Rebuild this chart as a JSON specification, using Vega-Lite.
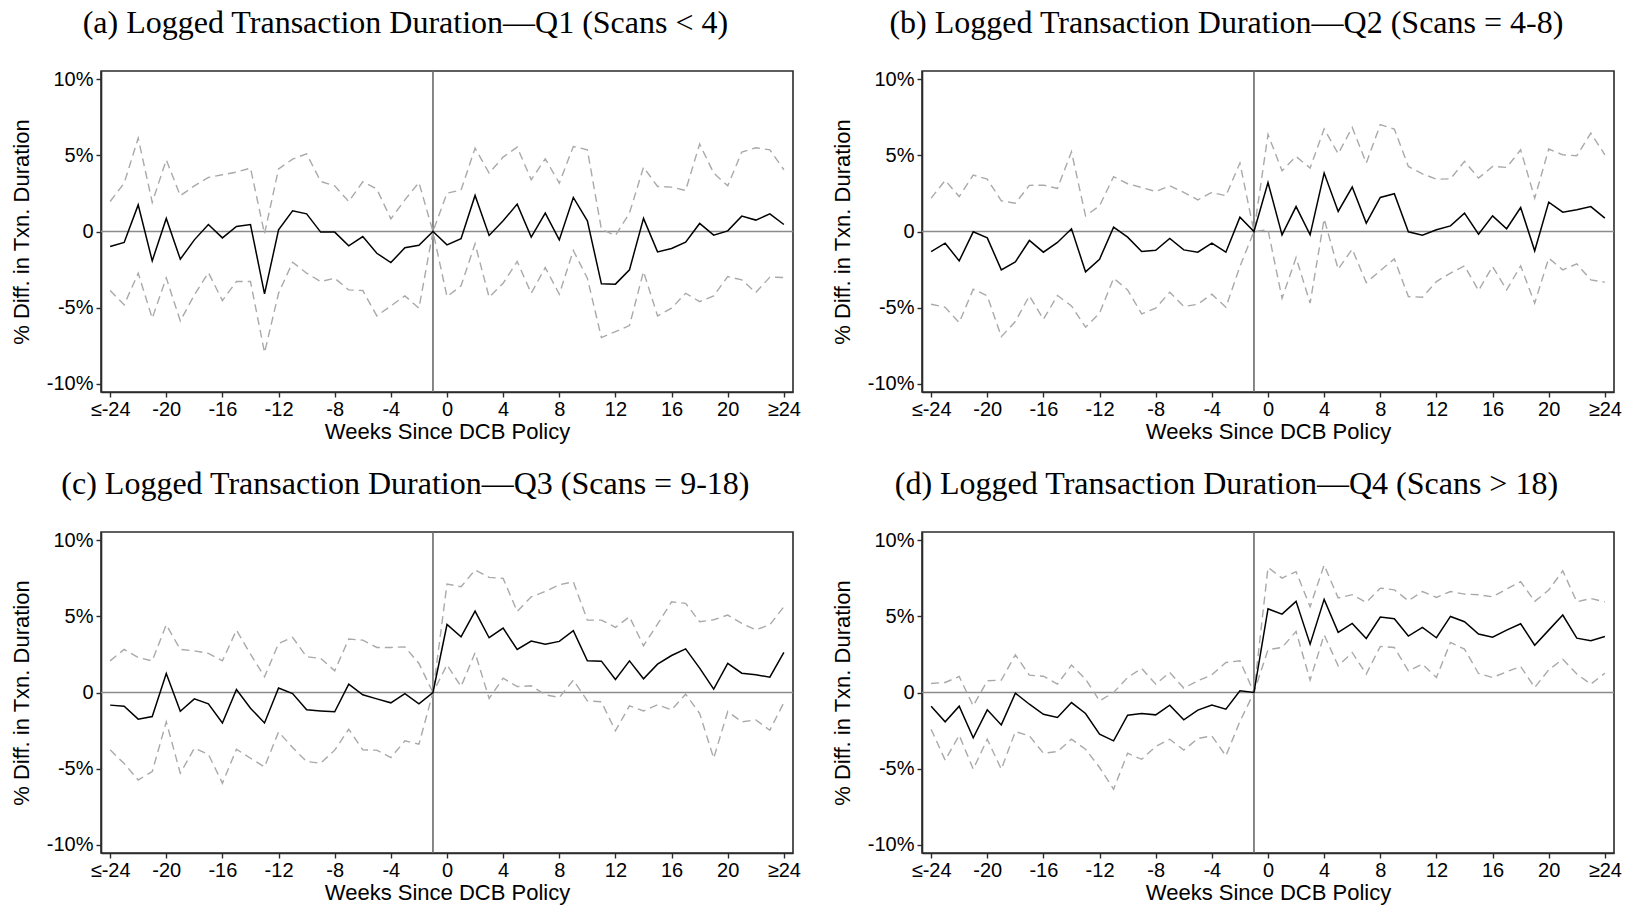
{
  "$schema": "https://vega.github.io/schema/vega-lite/v6.json",
  "background": "white",
  "padding": {"left": 9, "top": 6, "right": 4, "bottom": 2},
  "config": {
    "view": {"stroke": "#2b2b2b", "strokeWidth": 1.6},
    "axis": {
      "grid": false,
      "domainColor": "#2b2b2b",
      "domainWidth": 1.6,
      "tickColor": "#2b2b2b",
      "tickWidth": 1.4,
      "tickSize": 5,
      "labelFont": "Liberation Sans",
      "labelFontSize": 20,
      "labelColor": "#000000",
      "labelPadding": 2,
      "labelOverlap": false,
      "labelFlush": false,
      "labelBound": false,
      "titleFont": "Liberation Sans",
      "titleFontSize": 22,
      "titleFontWeight": "normal",
      "titleColor": "#000000"
    },
    "axisX": {"titlePadding": 2},
    "axisY": {"titlePadding": 13, "labelPadding": 3},
    "title": {
      "font": "Liberation Serif",
      "fontSize": 32,
      "fontWeight": "normal",
      "color": "#000000",
      "anchor": "middle",
      "frame": "bounds",
      "offset": 29
    }
  },
  "datasets": {
    "coef": [
      {"p":"a","w":-24,"est":-0.99,"lo":-3.88,"hi":1.97},
      {"p":"a","w":-23,"est":-0.72,"lo":-4.82,"hi":3.18},
      {"p":"a","w":-22,"est":1.75,"lo":-2.74,"hi":6.14},
      {"p":"a","w":-21,"est":-1.93,"lo":-5.7,"hi":1.91},
      {"p":"a","w":-20,"est":0.86,"lo":-3.05,"hi":4.71},
      {"p":"a","w":-19,"est":-1.82,"lo":-5.88,"hi":2.35},
      {"p":"a","w":-18,"est":-0.55,"lo":-4.17,"hi":3.0},
      {"p":"a","w":-17,"est":0.46,"lo":-2.7,"hi":3.55},
      {"p":"a","w":-16,"est":-0.42,"lo":-4.54,"hi":3.73},
      {"p":"a","w":-15,"est":0.33,"lo":-3.29,"hi":3.9},
      {"p":"a","w":-14,"est":0.46,"lo":-3.29,"hi":4.17},
      {"p":"a","w":-13,"est":-4.1,"lo":-7.96,"hi":-0.15},
      {"p":"a","w":-12,"est":0.11,"lo":-4.06,"hi":4.12},
      {"p":"a","w":-11,"est":1.36,"lo":-2.02,"hi":4.76},
      {"p":"a","w":-10,"est":1.16,"lo":-2.74,"hi":5.11},
      {"p":"a","w":-9,"est":-0.04,"lo":-3.29,"hi":3.29},
      {"p":"a","w":-8,"est":-0.04,"lo":-3.07,"hi":3.0},
      {"p":"a","w":-7,"est":-0.94,"lo":-3.84,"hi":1.97},
      {"p":"a","w":-6,"est":-0.33,"lo":-3.88,"hi":3.27},
      {"p":"a","w":-5,"est":-1.43,"lo":-5.55,"hi":2.79},
      {"p":"a","w":-4,"est":-2.04,"lo":-4.89,"hi":0.83},
      {"p":"a","w":-3,"est":-1.07,"lo":-4.23,"hi":2.08},
      {"p":"a","w":-2,"est":-0.9,"lo":-5.04,"hi":3.22},
      {"p":"a","w":-1,"est":0,"lo":0,"hi":0},
      {"p":"a","w":0,"est":-0.88,"lo":-4.28,"hi":2.52},
      {"p":"a","w":1,"est":-0.48,"lo":-3.57,"hi":2.72},
      {"p":"a","w":2,"est":2.37,"lo":-0.81,"hi":5.48},
      {"p":"a","w":3,"est":-0.26,"lo":-4.32,"hi":3.84},
      {"p":"a","w":4,"est":0.7,"lo":-3.4,"hi":4.89},
      {"p":"a","w":5,"est":1.8,"lo":-1.97,"hi":5.55},
      {"p":"a","w":6,"est":-0.37,"lo":-4.06,"hi":3.4},
      {"p":"a","w":7,"est":1.21,"lo":-2.37,"hi":4.78},
      {"p":"a","w":8,"est":-0.55,"lo":-4.12,"hi":3.18},
      {"p":"a","w":9,"est":2.24,"lo":-1.25,"hi":5.59},
      {"p":"a","w":10,"est":0.7,"lo":-3.07,"hi":5.37},
      {"p":"a","w":11,"est":-3.44,"lo":-6.97,"hi":0.15},
      {"p":"a","w":12,"est":-3.46,"lo":-6.58,"hi":-0.26},
      {"p":"a","w":13,"est":-2.52,"lo":-6.18,"hi":1.21},
      {"p":"a","w":14,"est":0.86,"lo":-2.63,"hi":4.23},
      {"p":"a","w":15,"est":-1.34,"lo":-5.55,"hi":2.96},
      {"p":"a","w":16,"est":-1.12,"lo":-5.04,"hi":2.92},
      {"p":"a","w":17,"est":-0.7,"lo":-4.06,"hi":2.7},
      {"p":"a","w":18,"est":0.53,"lo":-4.61,"hi":5.75},
      {"p":"a","w":19,"est":-0.24,"lo":-4.23,"hi":3.84},
      {"p":"a","w":20,"est":0.04,"lo":-2.96,"hi":3.0},
      {"p":"a","w":21,"est":1.01,"lo":-3.18,"hi":5.22},
      {"p":"a","w":22,"est":0.75,"lo":-4.01,"hi":5.5},
      {"p":"a","w":23,"est":1.16,"lo":-3.0,"hi":5.37},
      {"p":"a","w":24,"est":0.46,"lo":-3.03,"hi":4.06},

      {"p":"b","w":-24,"est":-1.32,"lo":-4.78,"hi":2.19},
      {"p":"b","w":-23,"est":-0.77,"lo":-4.98,"hi":3.36},
      {"p":"b","w":-22,"est":-1.93,"lo":-5.99,"hi":2.3},
      {"p":"b","w":-21,"est":-0.02,"lo":-3.79,"hi":3.71},
      {"p":"b","w":-20,"est":-0.42,"lo":-4.23,"hi":3.44},
      {"p":"b","w":-19,"est":-2.52,"lo":-6.91,"hi":2.02},
      {"p":"b","w":-18,"est":-2.0,"lo":-5.92,"hi":1.86},
      {"p":"b","w":-17,"est":-0.59,"lo":-4.23,"hi":3.03},
      {"p":"b","w":-16,"est":-1.36,"lo":-5.77,"hi":3.05},
      {"p":"b","w":-15,"est":-0.72,"lo":-4.21,"hi":2.83},
      {"p":"b","w":-14,"est":0.18,"lo":-4.89,"hi":5.24},
      {"p":"b","w":-13,"est":-2.65,"lo":-6.29,"hi":1.03},
      {"p":"b","w":-12,"est":-1.82,"lo":-5.37,"hi":1.69},
      {"p":"b","w":-11,"est":0.29,"lo":-3.07,"hi":3.6},
      {"p":"b","w":-10,"est":-0.37,"lo":-3.84,"hi":3.14},
      {"p":"b","w":-9,"est":-1.32,"lo":-5.42,"hi":2.89},
      {"p":"b","w":-8,"est":-1.23,"lo":-5.04,"hi":2.63},
      {"p":"b","w":-7,"est":-0.46,"lo":-3.99,"hi":3.0},
      {"p":"b","w":-6,"est":-1.21,"lo":-4.93,"hi":2.57},
      {"p":"b","w":-5,"est":-1.36,"lo":-4.78,"hi":2.08},
      {"p":"b","w":-4,"est":-0.77,"lo":-4.12,"hi":2.57},
      {"p":"b","w":-3,"est":-1.36,"lo":-4.98,"hi":2.35},
      {"p":"b","w":-2,"est":0.94,"lo":-2.3,"hi":4.5},
      {"p":"b","w":-1,"est":0,"lo":0,"hi":0},
      {"p":"b","w":0,"est":3.22,"lo":0.11,"hi":6.38},
      {"p":"b","w":1,"est":-0.22,"lo":-4.39,"hi":3.99},
      {"p":"b","w":2,"est":1.64,"lo":-1.71,"hi":4.93},
      {"p":"b","w":3,"est":-0.22,"lo":-4.71,"hi":4.17},
      {"p":"b","w":4,"est":3.84,"lo":0.83,"hi":6.75},
      {"p":"b","w":5,"est":1.32,"lo":-2.48,"hi":5.11},
      {"p":"b","w":6,"est":2.92,"lo":-1.16,"hi":6.84},
      {"p":"b","w":7,"est":0.55,"lo":-3.36,"hi":4.5},
      {"p":"b","w":8,"est":2.24,"lo":-2.57,"hi":7.02},
      {"p":"b","w":9,"est":2.48,"lo":-1.8,"hi":6.73},
      {"p":"b","w":10,"est":-0.02,"lo":-4.28,"hi":4.28},
      {"p":"b","w":11,"est":-0.24,"lo":-4.32,"hi":3.79},
      {"p":"b","w":12,"est":0.11,"lo":-3.29,"hi":3.44},
      {"p":"b","w":13,"est":0.37,"lo":-2.74,"hi":3.46},
      {"p":"b","w":14,"est":1.21,"lo":-2.26,"hi":4.61},
      {"p":"b","w":15,"est":-0.18,"lo":-3.88,"hi":3.51},
      {"p":"b","w":16,"est":1.03,"lo":-2.3,"hi":4.28},
      {"p":"b","w":17,"est":0.18,"lo":-3.84,"hi":4.21},
      {"p":"b","w":18,"est":1.58,"lo":-2.26,"hi":5.37},
      {"p":"b","w":19,"est":-1.27,"lo":-4.71,"hi":2.19},
      {"p":"b","w":20,"est":1.93,"lo":-1.75,"hi":5.42},
      {"p":"b","w":21,"est":1.27,"lo":-2.52,"hi":5.04},
      {"p":"b","w":22,"est":1.43,"lo":-2.13,"hi":4.98},
      {"p":"b","w":23,"est":1.64,"lo":-3.18,"hi":6.47},
      {"p":"b","w":24,"est":0.88,"lo":-3.33,"hi":5.04},

      {"p":"c","w":-24,"est":-0.83,"lo":-3.77,"hi":2.08},
      {"p":"c","w":-23,"est":-0.9,"lo":-4.67,"hi":2.83},
      {"p":"c","w":-22,"est":-1.75,"lo":-5.75,"hi":2.3},
      {"p":"c","w":-21,"est":-1.58,"lo":-5.2,"hi":2.08},
      {"p":"c","w":-20,"est":1.25,"lo":-1.93,"hi":4.45},
      {"p":"c","w":-19,"est":-1.23,"lo":-5.31,"hi":2.83},
      {"p":"c","w":-18,"est":-0.42,"lo":-3.66,"hi":2.74},
      {"p":"c","w":-17,"est":-0.75,"lo":-4.06,"hi":2.57},
      {"p":"c","w":-16,"est":-2.0,"lo":-5.96,"hi":2.08},
      {"p":"c","w":-15,"est":0.2,"lo":-3.73,"hi":4.1},
      {"p":"c","w":-14,"est":-1.03,"lo":-4.32,"hi":2.52},
      {"p":"c","w":-13,"est":-2.0,"lo":-4.89,"hi":1.03},
      {"p":"c","w":-12,"est":0.29,"lo":-2.59,"hi":3.22},
      {"p":"c","w":-11,"est":-0.07,"lo":-3.62,"hi":3.62},
      {"p":"c","w":-10,"est":-1.14,"lo":-4.54,"hi":2.35},
      {"p":"c","w":-9,"est":-1.21,"lo":-4.65,"hi":2.24},
      {"p":"c","w":-8,"est":-1.27,"lo":-3.79,"hi":1.43},
      {"p":"c","w":-7,"est":0.55,"lo":-2.41,"hi":3.51},
      {"p":"c","w":-6,"est":-0.15,"lo":-3.77,"hi":3.44},
      {"p":"c","w":-5,"est":-0.42,"lo":-3.79,"hi":2.96},
      {"p":"c","w":-4,"est":-0.68,"lo":-4.28,"hi":2.96},
      {"p":"c","w":-3,"est":-0.07,"lo":-3.18,"hi":3.0},
      {"p":"c","w":-2,"est":-0.75,"lo":-3.4,"hi":1.91},
      {"p":"c","w":-1,"est":0,"lo":0,"hi":0},
      {"p":"c","w":0,"est":4.47,"lo":1.82,"hi":7.13},
      {"p":"c","w":1,"est":3.66,"lo":0.39,"hi":6.95},
      {"p":"c","w":2,"est":5.35,"lo":2.61,"hi":8.05},
      {"p":"c","w":3,"est":3.6,"lo":-0.39,"hi":7.57},
      {"p":"c","w":4,"est":4.23,"lo":0.94,"hi":7.5},
      {"p":"c","w":5,"est":2.83,"lo":0.39,"hi":5.33},
      {"p":"c","w":6,"est":3.38,"lo":0.44,"hi":6.29},
      {"p":"c","w":7,"est":3.18,"lo":-0.15,"hi":6.64},
      {"p":"c","w":8,"est":3.36,"lo":-0.33,"hi":7.08},
      {"p":"c","w":9,"est":4.06,"lo":0.81,"hi":7.28},
      {"p":"c","w":10,"est":2.08,"lo":-0.55,"hi":4.76},
      {"p":"c","w":11,"est":2.06,"lo":-0.61,"hi":4.76},
      {"p":"c","w":12,"est":0.86,"lo":-2.52,"hi":4.28},
      {"p":"c","w":13,"est":2.08,"lo":-0.88,"hi":4.98},
      {"p":"c","w":14,"est":0.9,"lo":-1.21,"hi":3.07},
      {"p":"c","w":15,"est":1.86,"lo":-0.81,"hi":4.5},
      {"p":"c","w":16,"est":2.43,"lo":-1.14,"hi":5.96},
      {"p":"c","w":17,"est":2.87,"lo":-0.11,"hi":5.86},
      {"p":"c","w":18,"est":1.6,"lo":-1.38,"hi":4.65},
      {"p":"c","w":19,"est":0.22,"lo":-4.32,"hi":4.78},
      {"p":"c","w":20,"est":1.91,"lo":-1.25,"hi":5.09},
      {"p":"c","w":21,"est":1.27,"lo":-1.93,"hi":4.54},
      {"p":"c","w":22,"est":1.16,"lo":-1.8,"hi":4.12},
      {"p":"c","w":23,"est":1.01,"lo":-2.48,"hi":4.45},
      {"p":"c","w":24,"est":2.63,"lo":-0.66,"hi":5.64},

      {"p":"d","w":-24,"est":-0.9,"lo":-2.41,"hi":0.59},
      {"p":"d","w":-23,"est":-1.93,"lo":-4.45,"hi":0.66},
      {"p":"d","w":-22,"est":-0.9,"lo":-2.81,"hi":1.05},
      {"p":"d","w":-21,"est":-2.98,"lo":-5.04,"hi":-0.88},
      {"p":"d","w":-20,"est":-1.14,"lo":-3.07,"hi":0.77},
      {"p":"d","w":-19,"est":-2.13,"lo":-5.04,"hi":0.81},
      {"p":"d","w":-18,"est":-0.04,"lo":-2.57,"hi":2.48},
      {"p":"d","w":-17,"est":-0.77,"lo":-2.85,"hi":1.14},
      {"p":"d","w":-16,"est":-1.43,"lo":-3.99,"hi":1.07},
      {"p":"d","w":-15,"est":-1.64,"lo":-3.88,"hi":0.55},
      {"p":"d","w":-14,"est":-0.66,"lo":-3.07,"hi":1.8},
      {"p":"d","w":-13,"est":-1.38,"lo":-3.73,"hi":0.88},
      {"p":"d","w":-12,"est":-2.74,"lo":-4.93,"hi":-0.55},
      {"p":"d","w":-11,"est":-3.18,"lo":-6.36,"hi":0.0},
      {"p":"d","w":-10,"est":-1.49,"lo":-3.99,"hi":0.99},
      {"p":"d","w":-9,"est":-1.38,"lo":-4.39,"hi":1.58},
      {"p":"d","w":-8,"est":-1.47,"lo":-3.55,"hi":0.55},
      {"p":"d","w":-7,"est":-0.83,"lo":-3.07,"hi":1.32},
      {"p":"d","w":-6,"est":-1.8,"lo":-3.79,"hi":0.29},
      {"p":"d","w":-5,"est":-1.16,"lo":-3.03,"hi":0.77},
      {"p":"d","w":-4,"est":-0.83,"lo":-2.85,"hi":1.16},
      {"p":"d","w":-3,"est":-1.1,"lo":-4.17,"hi":1.97},
      {"p":"d","w":-2,"est":0.11,"lo":-1.9,"hi":2.08},
      {"p":"d","w":-1,"est":0,"lo":0,"hi":0},
      {"p":"d","w":0,"est":5.5,"lo":2.81,"hi":8.22},
      {"p":"d","w":1,"est":5.15,"lo":2.96,"hi":7.52},
      {"p":"d","w":2,"est":5.99,"lo":4.01,"hi":7.94},
      {"p":"d","w":3,"est":3.18,"lo":0.81,"hi":5.64},
      {"p":"d","w":4,"est":6.12,"lo":3.79,"hi":8.38},
      {"p":"d","w":5,"est":3.95,"lo":1.75,"hi":6.21},
      {"p":"d","w":6,"est":4.54,"lo":2.63,"hi":6.43},
      {"p":"d","w":7,"est":3.55,"lo":1.21,"hi":5.92},
      {"p":"d","w":8,"est":4.96,"lo":3.03,"hi":6.86},
      {"p":"d","w":9,"est":4.85,"lo":2.96,"hi":6.75},
      {"p":"d","w":10,"est":3.71,"lo":1.43,"hi":6.03},
      {"p":"d","w":11,"est":4.28,"lo":1.86,"hi":6.64},
      {"p":"d","w":12,"est":3.6,"lo":0.99,"hi":6.25},
      {"p":"d","w":13,"est":5.0,"lo":3.29,"hi":6.64},
      {"p":"d","w":14,"est":4.65,"lo":2.85,"hi":6.47},
      {"p":"d","w":15,"est":3.84,"lo":1.25,"hi":6.43},
      {"p":"d","w":16,"est":3.64,"lo":0.99,"hi":6.29},
      {"p":"d","w":17,"est":4.1,"lo":1.36,"hi":6.8},
      {"p":"d","w":18,"est":4.52,"lo":1.71,"hi":7.28},
      {"p":"d","w":19,"est":3.11,"lo":0.33,"hi":5.99},
      {"p":"d","w":20,"est":4.1,"lo":1.49,"hi":6.73},
      {"p":"d","w":21,"est":5.09,"lo":2.19,"hi":8.0},
      {"p":"d","w":22,"est":3.57,"lo":1.21,"hi":5.96},
      {"p":"d","w":23,"est":3.4,"lo":0.55,"hi":6.18},
      {"p":"d","w":24,"est":3.68,"lo":1.27,"hi":5.96}
    ]
  },
  "data": {"name": "coef"},
  "columns": 2,
  "spacing": {"row": 24, "column": 28},
  "concat": [
    {
      "title": "(a) Logged Transaction Duration—Q1 (Scans < 4)",
      "width": 692,
      "height": 321,
      "transform": [{"filter": "datum.p == 'a'"}],
      "layer": [
        {"data": {"values": [{}]}, "mark": {"type": "rule", "color": "#8c8c8c", "strokeWidth": 1.6}, "encoding": {"y": {"datum": 0, "type": "quantitative", "scale": {"domain": [-10.55, 10.55], "nice": false, "zero": false}}}},
        {"data": {"values": [{}]}, "mark": {"type": "rule", "color": "#6a6a6a", "strokeWidth": 1.6}, "encoding": {"x": {"datum": -1, "type": "quantitative", "scale": {"domain": [-24.65, 24.65], "nice": false, "zero": false}}}},
        {"mark": {"type": "line", "color": "#a9a9a9", "strokeWidth": 1.4, "strokeDash": [8, 5]}, "encoding": {
          "x": {"field": "w", "type": "quantitative", "scale": {"domain": [-24.65, 24.65], "nice": false, "zero": false}, "axis": {"title": "Weeks Since DCB Policy", "values": [-24, -20, -16, -12, -8, -4, 0, 4, 8, 12, 16, 20, 24], "labelExpr": "datum.value == -24 ? '≤-24' : datum.value == 24 ? '≥24' : '' + datum.value"}},
          "y": {"field": "hi", "type": "quantitative", "scale": {"domain": [-10.55, 10.55], "nice": false, "zero": false}, "axis": {"title": "% Diff. in Txn. Duration", "values": [-10, -5, 0, 5, 10], "labelExpr": "datum.value == 0 ? '0' : datum.value + '%'"}}}},
        {"mark": {"type": "line", "color": "#a9a9a9", "strokeWidth": 1.4, "strokeDash": [8, 5]}, "encoding": {
          "x": {"field": "w", "type": "quantitative", "scale": {"domain": [-24.65, 24.65], "nice": false, "zero": false}, "axis": {"title": "Weeks Since DCB Policy", "values": [-24, -20, -16, -12, -8, -4, 0, 4, 8, 12, 16, 20, 24], "labelExpr": "datum.value == -24 ? '≤-24' : datum.value == 24 ? '≥24' : '' + datum.value"}},
          "y": {"field": "lo", "type": "quantitative", "scale": {"domain": [-10.55, 10.55], "nice": false, "zero": false}, "axis": {"title": "% Diff. in Txn. Duration", "values": [-10, -5, 0, 5, 10], "labelExpr": "datum.value == 0 ? '0' : datum.value + '%'"}}}},
        {"mark": {"type": "line", "color": "#000000", "strokeWidth": 1.5}, "encoding": {
          "x": {"field": "w", "type": "quantitative", "scale": {"domain": [-24.65, 24.65], "nice": false, "zero": false}, "axis": {"title": "Weeks Since DCB Policy", "values": [-24, -20, -16, -12, -8, -4, 0, 4, 8, 12, 16, 20, 24], "labelExpr": "datum.value == -24 ? '≤-24' : datum.value == 24 ? '≥24' : '' + datum.value"}},
          "y": {"field": "est", "type": "quantitative", "scale": {"domain": [-10.55, 10.55], "nice": false, "zero": false}, "axis": {"title": "% Diff. in Txn. Duration", "values": [-10, -5, 0, 5, 10], "labelExpr": "datum.value == 0 ? '0' : datum.value + '%'"}}}}
      ]
    },
    {
      "title": "(b) Logged Transaction Duration—Q2 (Scans = 4-8)",
      "width": 692,
      "height": 321,
      "transform": [{"filter": "datum.p == 'b'"}],
      "layer": [
        {"data": {"values": [{}]}, "mark": {"type": "rule", "color": "#8c8c8c", "strokeWidth": 1.6}, "encoding": {"y": {"datum": 0, "type": "quantitative", "scale": {"domain": [-10.55, 10.55], "nice": false, "zero": false}}}},
        {"data": {"values": [{}]}, "mark": {"type": "rule", "color": "#6a6a6a", "strokeWidth": 1.6}, "encoding": {"x": {"datum": -1, "type": "quantitative", "scale": {"domain": [-24.65, 24.65], "nice": false, "zero": false}}}},
        {"mark": {"type": "line", "color": "#a9a9a9", "strokeWidth": 1.4, "strokeDash": [8, 5]}, "encoding": {
          "x": {"field": "w", "type": "quantitative", "scale": {"domain": [-24.65, 24.65], "nice": false, "zero": false}, "axis": {"title": "Weeks Since DCB Policy", "values": [-24, -20, -16, -12, -8, -4, 0, 4, 8, 12, 16, 20, 24], "labelExpr": "datum.value == -24 ? '≤-24' : datum.value == 24 ? '≥24' : '' + datum.value"}},
          "y": {"field": "hi", "type": "quantitative", "scale": {"domain": [-10.55, 10.55], "nice": false, "zero": false}, "axis": {"title": "% Diff. in Txn. Duration", "values": [-10, -5, 0, 5, 10], "labelExpr": "datum.value == 0 ? '0' : datum.value + '%'"}}}},
        {"mark": {"type": "line", "color": "#a9a9a9", "strokeWidth": 1.4, "strokeDash": [8, 5]}, "encoding": {
          "x": {"field": "w", "type": "quantitative", "scale": {"domain": [-24.65, 24.65], "nice": false, "zero": false}, "axis": {"title": "Weeks Since DCB Policy", "values": [-24, -20, -16, -12, -8, -4, 0, 4, 8, 12, 16, 20, 24], "labelExpr": "datum.value == -24 ? '≤-24' : datum.value == 24 ? '≥24' : '' + datum.value"}},
          "y": {"field": "lo", "type": "quantitative", "scale": {"domain": [-10.55, 10.55], "nice": false, "zero": false}, "axis": {"title": "% Diff. in Txn. Duration", "values": [-10, -5, 0, 5, 10], "labelExpr": "datum.value == 0 ? '0' : datum.value + '%'"}}}},
        {"mark": {"type": "line", "color": "#000000", "strokeWidth": 1.5}, "encoding": {
          "x": {"field": "w", "type": "quantitative", "scale": {"domain": [-24.65, 24.65], "nice": false, "zero": false}, "axis": {"title": "Weeks Since DCB Policy", "values": [-24, -20, -16, -12, -8, -4, 0, 4, 8, 12, 16, 20, 24], "labelExpr": "datum.value == -24 ? '≤-24' : datum.value == 24 ? '≥24' : '' + datum.value"}},
          "y": {"field": "est", "type": "quantitative", "scale": {"domain": [-10.55, 10.55], "nice": false, "zero": false}, "axis": {"title": "% Diff. in Txn. Duration", "values": [-10, -5, 0, 5, 10], "labelExpr": "datum.value == 0 ? '0' : datum.value + '%'"}}}}
      ]
    },
    {
      "title": "(c) Logged Transaction Duration—Q3 (Scans = 9-18)",
      "width": 692,
      "height": 321,
      "transform": [{"filter": "datum.p == 'c'"}],
      "layer": [
        {"data": {"values": [{}]}, "mark": {"type": "rule", "color": "#8c8c8c", "strokeWidth": 1.6}, "encoding": {"y": {"datum": 0, "type": "quantitative", "scale": {"domain": [-10.55, 10.55], "nice": false, "zero": false}}}},
        {"data": {"values": [{}]}, "mark": {"type": "rule", "color": "#6a6a6a", "strokeWidth": 1.6}, "encoding": {"x": {"datum": -1, "type": "quantitative", "scale": {"domain": [-24.65, 24.65], "nice": false, "zero": false}}}},
        {"mark": {"type": "line", "color": "#a9a9a9", "strokeWidth": 1.4, "strokeDash": [8, 5]}, "encoding": {
          "x": {"field": "w", "type": "quantitative", "scale": {"domain": [-24.65, 24.65], "nice": false, "zero": false}, "axis": {"title": "Weeks Since DCB Policy", "values": [-24, -20, -16, -12, -8, -4, 0, 4, 8, 12, 16, 20, 24], "labelExpr": "datum.value == -24 ? '≤-24' : datum.value == 24 ? '≥24' : '' + datum.value"}},
          "y": {"field": "hi", "type": "quantitative", "scale": {"domain": [-10.55, 10.55], "nice": false, "zero": false}, "axis": {"title": "% Diff. in Txn. Duration", "values": [-10, -5, 0, 5, 10], "labelExpr": "datum.value == 0 ? '0' : datum.value + '%'"}}}},
        {"mark": {"type": "line", "color": "#a9a9a9", "strokeWidth": 1.4, "strokeDash": [8, 5]}, "encoding": {
          "x": {"field": "w", "type": "quantitative", "scale": {"domain": [-24.65, 24.65], "nice": false, "zero": false}, "axis": {"title": "Weeks Since DCB Policy", "values": [-24, -20, -16, -12, -8, -4, 0, 4, 8, 12, 16, 20, 24], "labelExpr": "datum.value == -24 ? '≤-24' : datum.value == 24 ? '≥24' : '' + datum.value"}},
          "y": {"field": "lo", "type": "quantitative", "scale": {"domain": [-10.55, 10.55], "nice": false, "zero": false}, "axis": {"title": "% Diff. in Txn. Duration", "values": [-10, -5, 0, 5, 10], "labelExpr": "datum.value == 0 ? '0' : datum.value + '%'"}}}},
        {"mark": {"type": "line", "color": "#000000", "strokeWidth": 1.5}, "encoding": {
          "x": {"field": "w", "type": "quantitative", "scale": {"domain": [-24.65, 24.65], "nice": false, "zero": false}, "axis": {"title": "Weeks Since DCB Policy", "values": [-24, -20, -16, -12, -8, -4, 0, 4, 8, 12, 16, 20, 24], "labelExpr": "datum.value == -24 ? '≤-24' : datum.value == 24 ? '≥24' : '' + datum.value"}},
          "y": {"field": "est", "type": "quantitative", "scale": {"domain": [-10.55, 10.55], "nice": false, "zero": false}, "axis": {"title": "% Diff. in Txn. Duration", "values": [-10, -5, 0, 5, 10], "labelExpr": "datum.value == 0 ? '0' : datum.value + '%'"}}}}
      ]
    },
    {
      "title": "(d) Logged Transaction Duration—Q4 (Scans > 18)",
      "width": 692,
      "height": 321,
      "transform": [{"filter": "datum.p == 'd'"}],
      "layer": [
        {"data": {"values": [{}]}, "mark": {"type": "rule", "color": "#8c8c8c", "strokeWidth": 1.6}, "encoding": {"y": {"datum": 0, "type": "quantitative", "scale": {"domain": [-10.55, 10.55], "nice": false, "zero": false}}}},
        {"data": {"values": [{}]}, "mark": {"type": "rule", "color": "#6a6a6a", "strokeWidth": 1.6}, "encoding": {"x": {"datum": -1, "type": "quantitative", "scale": {"domain": [-24.65, 24.65], "nice": false, "zero": false}}}},
        {"mark": {"type": "line", "color": "#a9a9a9", "strokeWidth": 1.4, "strokeDash": [8, 5]}, "encoding": {
          "x": {"field": "w", "type": "quantitative", "scale": {"domain": [-24.65, 24.65], "nice": false, "zero": false}, "axis": {"title": "Weeks Since DCB Policy", "values": [-24, -20, -16, -12, -8, -4, 0, 4, 8, 12, 16, 20, 24], "labelExpr": "datum.value == -24 ? '≤-24' : datum.value == 24 ? '≥24' : '' + datum.value"}},
          "y": {"field": "hi", "type": "quantitative", "scale": {"domain": [-10.55, 10.55], "nice": false, "zero": false}, "axis": {"title": "% Diff. in Txn. Duration", "values": [-10, -5, 0, 5, 10], "labelExpr": "datum.value == 0 ? '0' : datum.value + '%'"}}}},
        {"mark": {"type": "line", "color": "#a9a9a9", "strokeWidth": 1.4, "strokeDash": [8, 5]}, "encoding": {
          "x": {"field": "w", "type": "quantitative", "scale": {"domain": [-24.65, 24.65], "nice": false, "zero": false}, "axis": {"title": "Weeks Since DCB Policy", "values": [-24, -20, -16, -12, -8, -4, 0, 4, 8, 12, 16, 20, 24], "labelExpr": "datum.value == -24 ? '≤-24' : datum.value == 24 ? '≥24' : '' + datum.value"}},
          "y": {"field": "lo", "type": "quantitative", "scale": {"domain": [-10.55, 10.55], "nice": false, "zero": false}, "axis": {"title": "% Diff. in Txn. Duration", "values": [-10, -5, 0, 5, 10], "labelExpr": "datum.value == 0 ? '0' : datum.value + '%'"}}}},
        {"mark": {"type": "line", "color": "#000000", "strokeWidth": 1.5}, "encoding": {
          "x": {"field": "w", "type": "quantitative", "scale": {"domain": [-24.65, 24.65], "nice": false, "zero": false}, "axis": {"title": "Weeks Since DCB Policy", "values": [-24, -20, -16, -12, -8, -4, 0, 4, 8, 12, 16, 20, 24], "labelExpr": "datum.value == -24 ? '≤-24' : datum.value == 24 ? '≥24' : '' + datum.value"}},
          "y": {"field": "est", "type": "quantitative", "scale": {"domain": [-10.55, 10.55], "nice": false, "zero": false}, "axis": {"title": "% Diff. in Txn. Duration", "values": [-10, -5, 0, 5, 10], "labelExpr": "datum.value == 0 ? '0' : datum.value + '%'"}}}}
      ]
    }
  ]
}
